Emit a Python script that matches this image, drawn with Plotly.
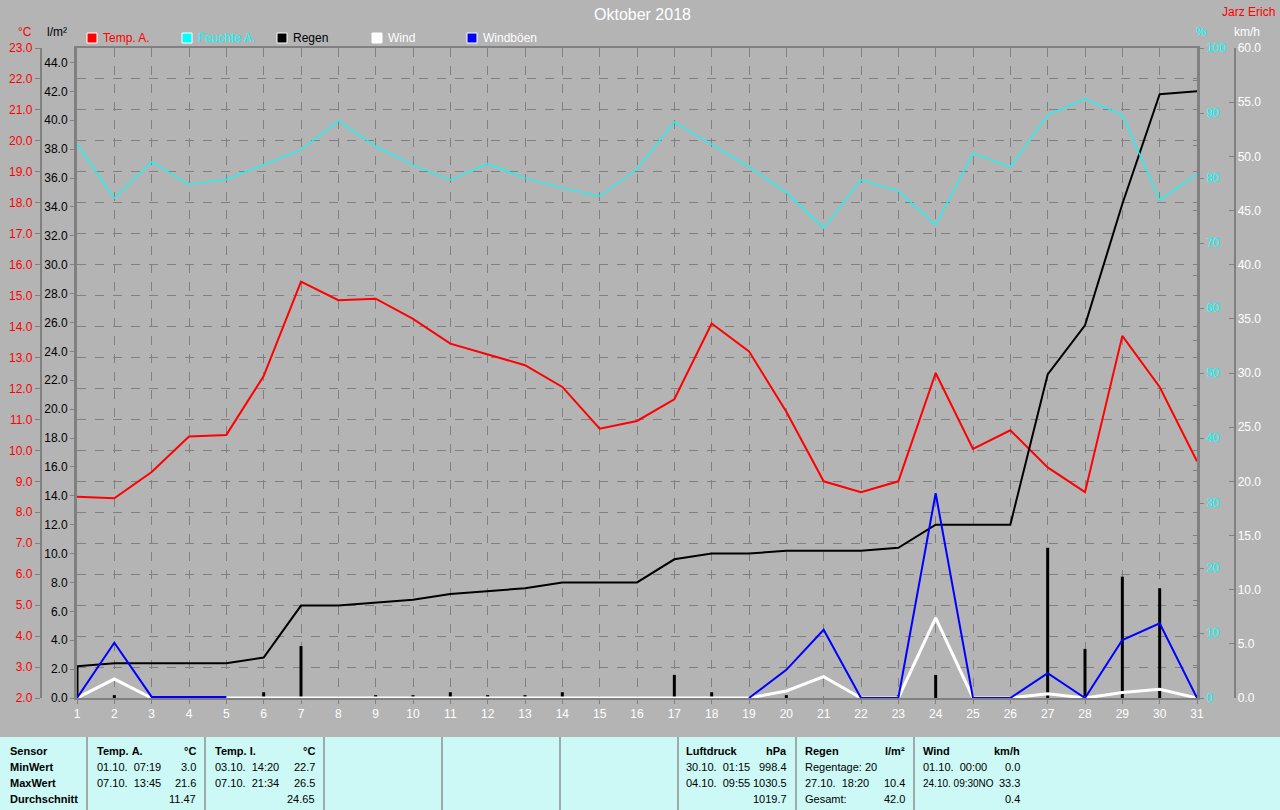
import plotly.graph_objects as go

W, H = 1280, 810

# ---------------- data ----------------
tage = list(range(1, 32))
tage_labels = [str(d) for d in tage]

temp_a = [8.5, 8.45, 9.3, 10.45, 10.5, 12.4, 15.45, 14.85, 14.9, 14.25, 13.45,
          13.1, 12.75, 12.05, 10.7, 10.95, 11.65, 14.1, 13.2, 11.25, 9.0,
          8.65, 9.0, 12.5, 10.05, 10.65, 9.45, 8.65, 13.7, 12.05, 9.65]

feuchte_a = [85.2, 76.9, 82.5, 79.0, 79.8, 82.0, 84.3, 88.8, 84.9, 82.0, 79.7,
             82.2, 80.0, 78.5, 77.2, 81.4, 88.6, 85.2, 81.7, 77.8, 72.3,
             79.7, 78.0, 72.8, 83.8, 81.7, 89.7, 92.2, 89.7, 76.6, 80.6]

regen_tag = [2.2, 0.2, 0, 0, 0, 0.4, 3.6, 0, 0.2, 0.2, 0.4,
             0.2, 0.2, 0.4, 0, 0, 1.6, 0.4, 0, 0.2, 0,
             0, 0.2, 1.6, 0, 0, 10.4, 3.4, 8.4, 7.6, 0.2]

regen_summe = [2.2, 2.4, 2.4, 2.4, 2.4, 2.8, 6.4, 6.4, 6.6, 6.8, 7.2,
               7.4, 7.6, 8.0, 8.0, 8.0, 9.6, 10.0, 10.0, 10.2, 10.2,
               10.2, 10.4, 12.0, 12.0, 12.0, 22.4, 25.8, 34.2, 41.8, 42.0]

wind = [0, 1.75, 0, 0, 0, 0, 0, 0, 0, 0, 0,
        0, 0, 0, 0, 0, 0, 0, 0, 0.65, 1.97,
        0, 0, 7.4, 0, 0, 0.4, 0, 0.5, 0.8, 0]

windboeen = [0, 5.1, 0.1, 0.1, 0.1, None, None, None, None, None, None,
             None, None, None, None, None, None, None, 0, 2.6, 6.3,
             0, 0, 18.9, 0, 0, 2.3, 0, 5.35, 6.9, 0]

legend_names = ["Temp. A.", "Feuchte A.", "Regen", "Wind", "Windböen"]
legend_colors = ["#FF0000", "#00FFFF", "#000000", "#FFFFFF", "#0000FF"]
legend_text_colors = ["#FF0000", "#00FFFF", "#000000", "#FFFFFF", "#FFFFFF"]

# statistics table
table_cols = [
    {"x": 8, "xr": None, "rows": [("Sensor", "", True), ("MinWert", "", True),
                                  ("MaxWert", "", True), ("Durchschnitt", "", True)]},
    {"x": 95, "xr": 198, "rows": [("Temp. A.", "°C", True), ("01.10.  07:19", "3.0", False),
                                  ("07.10.  13:45", "21.6", False), ("", "11.47", False)]},
    {"x": 213, "xr": 317, "rows": [("Temp. I.", "°C", True), ("03.10.  14:20", "22.7", False),
                                   ("07.10.  21:34", "26.5", False), ("", "24.65", False)]},
    {"x": 684, "xr": 789, "rows": [("Luftdruck", "hPa", True), ("30.10.  01:15", "998.4", False),
                                   ("04.10.  09:55", "1030.5", False), ("", "1019.7", False)]},
    {"x": 803, "xr": 907, "rows": [("Regen", "l/m²", True), ("Regentage: 20", "", False),
                                   ("27.10.  18:20", "10.4", False), ("Gesamt:", "42.0", False)]},
    {"x": 921, "xr": 1022, "rows": [("Wind", "km/h", True), ("01.10.  00:00", "0.0", False),
                                    ("24.10. 09:30NO", "33.3", False), ("", "0.4", False)]},
]
table_seps = [87, 205, 324, 442, 560, 678, 796, 914]
table_row_y = [751, 767, 783, 799]

# ---------------- helpers ----------------
def px(x):
    return x / W

def py(y):
    return 1 - y / H

FONT = "Liberation Sans"
GRID = "#808080"
BG = "#B4B4B4"

x_dom = [px(77), px(1197)]
y_dom = [py(698), py(48)]

fig = go.Figure()

# rain bars (l/m², yaxis2)
fig.add_trace(go.Bar(x=tage, y=regen_tag, width=0.08, marker=dict(color="#000000", line=dict(width=0)),
                     yaxis="y2", name="Regen Tag"))
# cumulative rain
fig.add_trace(go.Scatter(x=tage, y=regen_summe, mode="lines", line=dict(color="#000000", width=2),
                         yaxis="y2", name="Regen"))
# humidity (%, yaxis3)
fig.add_trace(go.Scatter(x=tage, y=feuchte_a, mode="lines", line=dict(color="#00FFFF", width=1.2),
                         yaxis="y3", name="Feuchte A."))
# temperature (°C, yaxis)
fig.add_trace(go.Scatter(x=tage, y=temp_a, mode="lines", line=dict(color="#FF0000", width=2),
                         yaxis="y", name="Temp. A."))
# wind (km/h, yaxis4)
fig.add_trace(go.Scatter(x=tage, y=wind, mode="lines", line=dict(color="#FFFFFF", width=3),
                         yaxis="y4", name="Wind"))
fig.add_trace(go.Scatter(x=tage, y=windboeen, mode="lines", line=dict(color="#0000FF", width=2),
                         yaxis="y4", name="Windböen", connectgaps=False))

tickfont = lambda c: dict(family=FONT, size=12, color=c)

fig.update_layout(
    width=W, height=H,
    margin=dict(l=0, r=0, t=0, b=0, autoexpand=False),
    paper_bgcolor=BG, plot_bgcolor=BG,
    showlegend=False,
    template="none",
    barmode="overlay",
    xaxis=dict(domain=x_dom, range=[1, 31], tickvals=tage, ticktext=tage_labels,
               tickfont=tickfont("#FFFFFF"), ticks="outside", ticklen=4, tickcolor=GRID,
               showgrid=True, gridcolor=GRID, griddash="dash", gridwidth=1,
               showline=True, linecolor=GRID, linewidth=2, mirror=True,
               zeroline=False, automargin=False, fixedrange=True, anchor="y2"),
    yaxis=dict(domain=y_dom, range=[2, 23], tickvals=[2 + i for i in range(22)],
               tickformat=".1f", tickfont=tickfont("#FF0000"),
               anchor="free", position=px(40.5), side="left",
               ticks="outside", ticklen=5, tickcolor=GRID,
               showline=True, linecolor=GRID, linewidth=1.5,
               showgrid=True, gridcolor=GRID, griddash="dash", gridwidth=1,
               zeroline=False, automargin=False),
    yaxis2=dict(domain=y_dom, range=[0, 45], tickvals=[2 * i for i in range(23)],
                tickformat=".1f", tickfont=tickfont("#000000"),
                overlaying="y", anchor="x", side="left",
                ticks="outside", ticklen=4, tickcolor=GRID,
                showline=True, linecolor=GRID, linewidth=3,
                showgrid=False, zeroline=False, automargin=False),
    yaxis3=dict(domain=y_dom, range=[0, 100], tickvals=[10 * i for i in range(11)],
                tickformat="d", tickfont=tickfont("#00FFFF"),
                overlaying="y", anchor="x", side="right",
                ticks="outside", ticklen=4, tickcolor=GRID,
                minor=dict(tickvals=[5 + 10 * i for i in range(10)], ticks="inside", ticklen=4, tickcolor=GRID),
                showline=True, linecolor=GRID, linewidth=3,
                showgrid=False, zeroline=False, automargin=False),
    yaxis4=dict(domain=y_dom, range=[0, 60], tickvals=[5 * i for i in range(13)],
                tickformat=".1f", tickfont=tickfont("#FFFFFF"),
                overlaying="y", anchor="free", position=px(1234.5), side="right",
                ticks="inside", ticklen=5, tickcolor=GRID,
                showline=True, linecolor=GRID, linewidth=1.5,
                showgrid=False, zeroline=False, automargin=False),
)

shapes = []
annotations = []

# title and author
annotations.append(dict(x=px(642), y=py(15), xref="paper", yref="paper", text="Oktober 2018",
                        showarrow=False, xanchor="center", yanchor="middle",
                        font=dict(family=FONT, size=16, color="#FFFFFF")))
annotations.append(dict(x=px(1277), y=py(12), xref="paper", yref="paper", text="Jarz Erich",
                        showarrow=False, xanchor="right", yanchor="middle",
                        font=dict(family=FONT, size=12, color="#FF0000")))

# axis unit labels
for txt, xx, col in [("°C", 25, "#FF0000"), ("l/m²", 57, "#000000"),
                     ("%", 1201, "#00FFFF"), ("km/h", 1247, "#FFFFFF")]:
    annotations.append(dict(x=px(xx), y=py(32), xref="paper", yref="paper", text=txt,
                            showarrow=False, xanchor="center", yanchor="middle",
                            font=dict(family=FONT, size=12, color=col)))

# custom legend
leg_x = [87, 182, 277, 372, 467]
for name, col, tcol, lx in zip(legend_names, legend_colors, legend_text_colors, leg_x):
    shapes.append(dict(type="rect", xref="paper", yref="paper",
                       x0=px(lx), x1=px(lx + 10), y0=py(43), y1=py(33),
                       fillcolor=col, line=dict(color="#FFFFFF", width=1)))
    annotations.append(dict(x=px(lx + 14), y=py(38), xref="paper", yref="paper", text=name,
                            showarrow=False, xanchor="left", yanchor="middle",
                            font=dict(family=FONT, size=12, color=tcol)))

# statistics table
shapes.append(dict(type="rect", xref="paper", yref="paper", x0=0, x1=1, y0=0, y1=py(737),
                   fillcolor="#CCF9F6", line=dict(width=0), layer="below"))
for sx in table_seps:
    shapes.append(dict(type="line", xref="paper", yref="paper", x0=px(sx), x1=px(sx),
                       y0=0, y1=py(737), line=dict(color="#909090", width=1.5)))

NB = "\u00a0"
for col in table_cols:
    for (left, right, bold), ry in zip(col["rows"], table_row_y):
        if left:
            t = left.replace(" ", NB)
            fs = 10 if "NO" in left else 11
            annotations.append(dict(x=px(col["x"]), y=py(ry), xref="paper", yref="paper",
                                    text=f"<b>{t}</b>" if bold else t,
                                    showarrow=False, xanchor="left", yanchor="middle",
                                    font=dict(family=FONT, size=fs, color="#000000")))
        if right and col["xr"] is not None:
            annotations.append(dict(x=px(col["xr"]), y=py(ry), xref="paper", yref="paper",
                                    text=f"<b>{right}</b>" if bold else right,
                                    showarrow=False, xanchor="right", yanchor="middle",
                                    font=dict(family=FONT, size=11, color="#000000")))

fig.update_layout(shapes=shapes, annotations=annotations)

fig.write_html("out.html",
               config={"displayModeBar": False},
               post_script="document.body.style.margin='0';document.body.style.padding='0';"
                           "document.body.style.overflow='hidden';")
